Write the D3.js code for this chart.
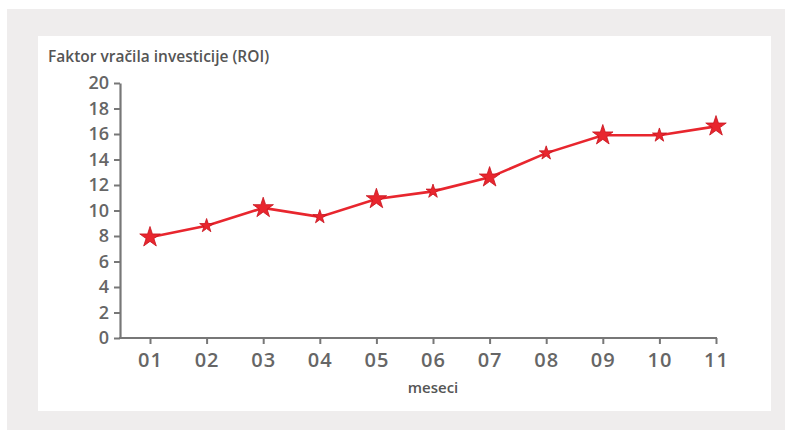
<!DOCTYPE html>
<html><head><meta charset="utf-8">
<script src="https://cdn.jsdelivr.net/npm/d3@7"></script>
<style>body{margin:0;background:#fff}svg{display:block}</style>
</head><body><svg id="c" width="793" height="430"></svg>
<script>
const months = ["01","02","03","04","05","06","07","08","09","10","11"];
const roi = [7.9, 8.8, 10.2, 9.5, 10.9, 11.5, 12.6, 14.5, 15.9, 15.9, 16.6];
const bigStar = [true,false,true,false,true,false,true,false,true,false,true];
const yTicks = [0,2,4,6,8,10,12,14,16,18,20];
const title = "Faktor vračila investicije (ROI)";
const xTitle = "meseci";

const svg = d3.select("#c");
svg.append("rect").attr("x",7).attr("y",9).attr("width",778).attr("height",421).attr("fill","#efeded");
svg.append("rect").attr("x",38).attr("y",36).attr("width",733).attr("height",375).attr("fill","#ffffff");

const font = "'Open Sans', 'DejaVu Sans', sans-serif";
const axisCol = "#777";
const textCol = "#666";

const x = d3.scalePoint().domain(months).range([150,716]);
const y = d3.scaleLinear().domain([0,20]).range([338,83]);

// y axis
const ya = svg.append("g").attr("transform","translate(120,0)")
  .call(d3.axisLeft(y).tickValues(yTicks).tickSize(6).tickSizeOuter(0).tickPadding(5));
ya.select(".domain").attr("stroke",axisCol).attr("stroke-width",2.2);
ya.selectAll(".tick line").attr("stroke",axisCol).attr("stroke-width",2);
ya.selectAll(".tick text").attr("fill",textCol).attr("font-family",font).attr("font-size",18).attr("font-weight",600);

// x axis
const xa = svg.append("g").attr("transform","translate(0,338)")
  .call(d3.axisBottom(x).tickSize(6).tickSizeOuter(0).tickPadding(9));
xa.select(".domain").attr("d","M119,0H717").attr("stroke",axisCol).attr("stroke-width",2.2);
xa.selectAll(".tick line").attr("stroke",axisCol).attr("stroke-width",2);
xa.selectAll(".tick text").attr("fill",textCol).attr("font-family",font).attr("font-size",20).attr("font-weight",600)
  .attr("letter-spacing",1);

// titles
svg.append("text").attr("x",48).attr("y",62).text(title)
  .attr("fill","#555").attr("font-family",font).attr("font-size",15.5).attr("font-weight",600);
svg.append("text").attr("x",433).attr("y",393).attr("text-anchor","middle").text(xTitle)
  .attr("fill","#555").attr("font-family",font).attr("font-size",15).attr("font-weight",600);

// line
const red = "#e8262e";
svg.append("path").datum(roi)
  .attr("d", d3.line().x((d,i)=>x(months[i])).y(d=>y(d)))
  .attr("fill","none").attr("stroke",red).attr("stroke-width",2.6);

svg.selectAll(".star").data(roi).enter().append("path")
  .attr("transform",(d,i)=>`translate(${x(months[i])},${y(d)})`)
  .attr("d",(d,i)=>d3.symbol(d3.symbolStar, bigStar[i]?130:60)())
  .attr("fill",red).attr("stroke","#c8141e").attr("stroke-width",0.8);
</script></body></html>
